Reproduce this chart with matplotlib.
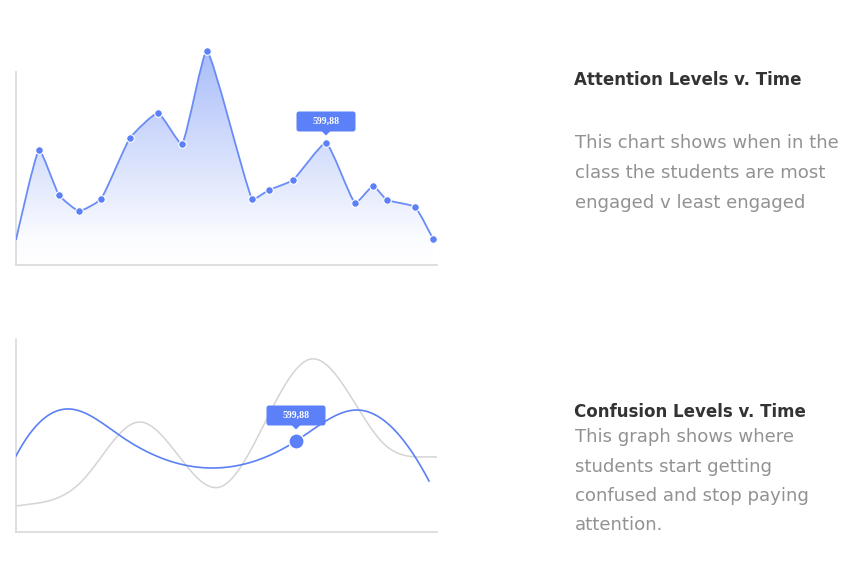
import numpy as np
import matplotlib
matplotlib.use('Agg')
import matplotlib.pyplot as plt
from matplotlib.path import Path
from matplotlib.patches import PathPatch, FancyBboxPatch, Polygon

# attention chart (x = minutes into class, y = attention level)
att_x = [0, 23, 43, 63, 85, 114, 142, 166, 191, 236, 253, 277, 310, 339, 357, 371, 399, 417]
att_y = [25, 115, 70, 54, 66, 127, 152, 121, 214, 66, 75, 85, 122, 62, 79, 65, 58, 26]
att_tip_idx = 12

# confusion chart: blue series and grey comparison series
conf_x = [0, 54, 106, 194, 280, 341, 413]
conf_y = [76, 123, 95, 64, 91, 122, 51]
base_x = [0, 67, 123, 204, 295, 367, 421]
base_y = [26, 52, 110, 45, 173, 89, 75]
conf_tip_idx = 4
tip_label = '599,88'

BLUE = '#5b80f7'
GRID = '#dcdcdc'


def chartjs_bezier(x, y, tension=0.4):
    # cubic bezier through points, control points like chart.js splineCurve
    pts = np.column_stack([x, y]).astype(float)
    n = len(pts)
    cp_prev = pts.copy()
    cp_next = pts.copy()
    for i in range(1, n - 1):
        p0, p1, p2 = pts[i - 1], pts[i], pts[i + 1]
        d01 = np.hypot(*(p1 - p0))
        d12 = np.hypot(*(p2 - p1))
        s01 = d01 / (d01 + d12)
        s12 = d12 / (d01 + d12)
        cp_prev[i] = p1 - tension * s01 * (p2 - p0)
        cp_next[i] = p1 + tension * s12 * (p2 - p0)
    verts = [pts[0]]
    codes = [Path.MOVETO]
    for i in range(n - 1):
        verts += [cp_next[i], cp_prev[i + 1], pts[i + 1]]
        codes += [Path.CURVE4] * 3
    return Path(verts, codes)


def clamped_spline(x, y, s0, s1, num=500):
    # C2 cubic spline with given end slopes
    x = np.asarray(x, float)
    y = np.asarray(y, float)
    n = len(x)
    h = np.diff(x)
    dy = np.diff(y) / h
    A = np.zeros((n, n))
    r = np.zeros(n)
    A[0, 0], A[0, 1] = 2 * h[0], h[0]
    r[0] = 3 * (dy[0] - s0)
    A[-1, -2], A[-1, -1] = h[-1], 2 * h[-1]
    r[-1] = 3 * (s1 - dy[-1])
    for i in range(1, n - 1):
        A[i, i - 1] = h[i - 1]
        A[i, i] = 2 * (h[i - 1] + h[i])
        A[i, i + 1] = h[i]
        r[i] = 3 * (dy[i] - dy[i - 1])
    c = np.linalg.solve(A, r)
    b = dy - h * (2 * c[:-1] + c[1:]) / 3
    d = (c[1:] - c[:-1]) / (3 * h)
    xs = np.linspace(x[0], x[-1], num)
    k = np.clip(np.searchsorted(x, xs) - 1, 0, n - 2)
    t = xs - x[k]
    return xs, y[k] + b[k] * t + c[k] * t**2 + d[k] * t**3


def tooltip(ax, px, py, gap, w=59, hgt=20):
    # rounded box + little pointer above a point
    bot = py + gap
    ax.add_patch(FancyBboxPatch((px - w / 2, bot), w, hgt,
                                boxstyle='round,pad=0,rounding_size=2.5',
                                fc=BLUE, ec='none', zorder=6))
    ax.add_patch(Polygon([[px - 4.5, bot + 0.5], [px + 4.5, bot + 0.5], [px, bot - 4]],
                         closed=True, fc=BLUE, ec='none', zorder=6))
    ax.text(px, bot + hgt / 2 + 0.5, tip_label, color='white', fontsize=7,
            fontweight='bold', family='Liberation Serif', ha='center', va='center', zorder=7)


def style_axes(ax, xmax, ymax, spine_top):
    ax.set_xlim(0, xmax)
    ax.set_ylim(0, ymax)
    for s in ['top', 'right']:
        ax.spines[s].set_visible(False)
    for s in ['left', 'bottom']:
        ax.spines[s].set_color(GRID)
        ax.spines[s].set_linewidth(1.3)
    ax.spines['left'].set_bounds(0, spine_top)
    ax.set_xticks([])
    ax.set_yticks([])
    ax.patch.set_alpha(0)


W, H = 861, 564
fig = plt.figure(figsize=(W / 100, H / 100), dpi=100)

# ---- top chart: attention ----
ax1 = fig.add_axes([16 / W, (H - 265) / H, 421 / W, 235 / H])
style_axes(ax1, 421, 235, 193)
path = chartjs_bezier(att_x, att_y, tension=0.15)
poly = path.to_polygons(closed_only=False)[0]
fill_verts = np.vstack([poly, [[att_x[-1], 0], [att_x[0], 0]]])
clip = Polygon(fill_verts, closed=True, fc='none', ec='none')
ax1.add_patch(clip)
grad = np.linspace(0, 1, 256).reshape(-1, 1)
cmap = matplotlib.colors.LinearSegmentedColormap.from_list(
    'g', [(0, '#ffffff'), (0.12, '#fbfcff'), (1, '#aabdf9')])
im = ax1.imshow(grad, extent=[0, 421, 0, max(att_y)], origin='lower', aspect='auto',
                cmap=cmap, zorder=1)
im.set_clip_path(clip)
ax1.add_patch(PathPatch(path, fc='none', ec='#6a8cf6', lw=1.3, zorder=3))
ax1.scatter(att_x[1:], att_y[1:], s=30, color=BLUE, edgecolor='white', linewidth=0.8, zorder=4)
tooltip(ax1, att_x[att_tip_idx], att_y[att_tip_idx], 11.5)

# ---- bottom chart: confusion ----
ax2 = fig.add_axes([16 / W, (H - 532) / H, 421 / W, 193 / H])
style_axes(ax2, 421, 193, 193)
bx, by = clamped_spline(base_x, base_y, 0.15, -0.05)
ax2.plot(bx, by, color='#d4d4d4', lw=1.1, zorder=2)
cx, cy = clamped_spline(conf_x, conf_y, 1.9, -1.9)
ax2.plot(cx, cy, color=BLUE, lw=1.2, zorder=3)
ax2.scatter([conf_x[conf_tip_idx]], [conf_y[conf_tip_idx]], s=120, color=BLUE,
            edgecolor='white', linewidth=1, zorder=5)
tooltip(ax2, conf_x[conf_tip_idx], conf_y[conf_tip_idx], 15.5)

# ---- text ----
title_kw = dict(color='#333333', fontsize=12, fontweight='bold', family='DejaVu Sans')
body_kw = dict(color='#929292', fontsize=13.1, family='DejaVu Sans')
fig.text(574 / W, 1 - 80 / H, 'Attention Levels v. Time', va='center', **title_kw)
for i, line in enumerate(['This chart shows when in the',
                          'class the students are most',
                          'engaged v least engaged']):
    fig.text(575 / W, 1 - (143 + 30 * i) / H, line, va='center', **body_kw)

fig.text(574 / W, 1 - 412 / H, 'Confusion Levels v. Time', va='center', **title_kw)
for i, line in enumerate(['This graph shows where',
                          'students start getting',
                          'confused and stop paying',
                          'attention.']):
    fig.text(575 / W, 1 - (437 + 29.5 * i) / H, line, va='center', **body_kw)

fig.savefig('out.png', dpi=100)
